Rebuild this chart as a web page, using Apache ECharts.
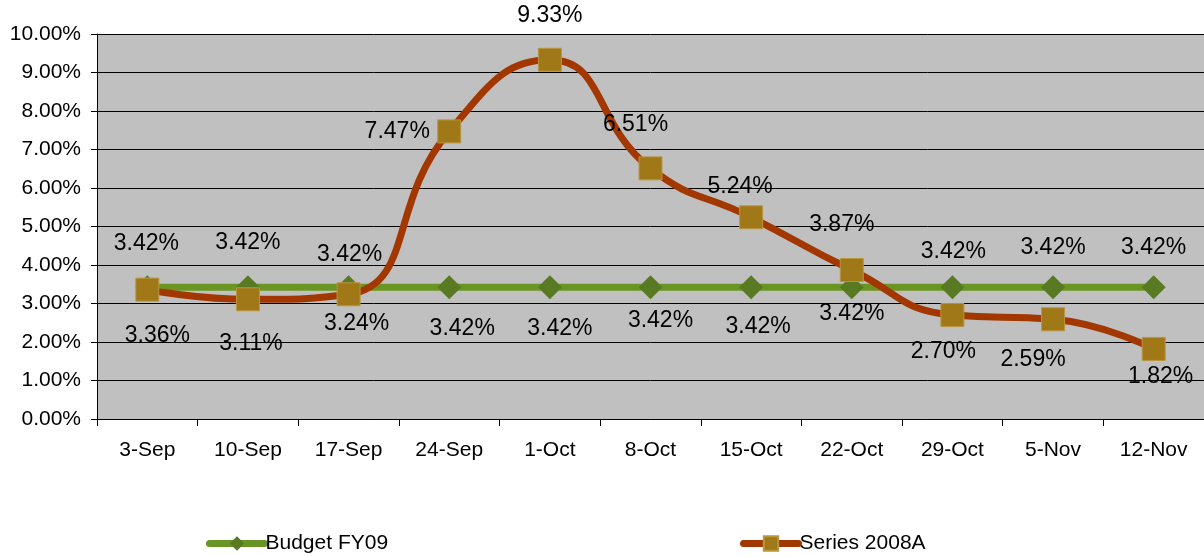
<!DOCTYPE html>
<html>
<head>
<meta charset="utf-8">
<script src="https://cdn.jsdelivr.net/npm/echarts@6/dist/echarts.min.js"></script>
<style>
html,body{margin:0;padding:0;background:#fff;}
#c{width:1204px;height:557px;}
</style>
</head>
<body>
<div id="c"></div>
<script>
const categories = ['3-Sep','10-Sep','17-Sep','24-Sep','1-Oct','8-Oct','15-Oct','22-Oct','29-Oct','5-Nov','12-Nov'];
const budgetFY09 = [3.42,3.42,3.42,3.42,3.42,3.42,3.42,3.42,3.42,3.42,3.42];
const series2008A = [3.36,3.11,3.24,7.47,9.33,6.51,5.24,3.87,2.70,2.59,1.82];
const yTicks = {min:0, max:10, interval:1};

// label offsets (layout only), relative to each marker
const budgetLabelOffsets = [[-1,-44],[0,-45],[1,-33],[13,41],[10,41],[10,33],[7,39],[0,26],[1,-36],[0,-40],[0,-40]];
const seriesLabelOffsets = [[10,46],[3,44],[8,29],[-52,0],[0,-44],[-15,-44],[-11,-31],[-10,-45],[-9,37],[-20,40],[7,28]];

const FONT = '"Liberation Sans", Arial, sans-serif';
const fmt = v => v.toFixed(2) + '%';

function mk(vals, offs){
  return vals.map((v,i)=>({
    value:v,
    label:{show:true, position:'inside', offset:offs[i], formatter:()=>fmt(v),
      color:'#000', fontSize:23, fontFamily:FONT}
  }));
}

const chart = echarts.init(document.getElementById('c'), null, {renderer:'canvas'});
chart.setOption({
  animation:false,
  backgroundColor:'#ffffff',
  grid:{left:97, top:34, width:1110, height:385, backgroundColor:'#C0C0C0', show:true, borderWidth:0},
  legend:[
    {data:['Budget FY09'], left:201, top:528, itemWidth:55, itemHeight:18, itemGap:4,
      lineStyle:{width:7, cap:'round'},
      textStyle:{fontSize:21, fontFamily:FONT, color:'#000', padding:[0,0,0,-4]}},
    {data:['Series 2008A'], left:735, top:528, itemWidth:55, itemHeight:18, itemGap:4,
      lineStyle:{width:7, cap:'round'},
      textStyle:{fontSize:21, fontFamily:FONT, color:'#000', padding:[0,0,0,-4]}}
  ],
  xAxis:{
    type:'category', data:categories, boundaryGap:true,
    axisLine:{lineStyle:{color:'#000', width:1}},
    axisTick:{show:true, length:7, lineStyle:{color:'#000'}},
    axisLabel:{color:'#000', fontSize:21, fontFamily:FONT, margin:21},
    splitLine:{show:false}
  },
  yAxis:{
    type:'value', min:yTicks.min, max:yTicks.max, interval:yTicks.interval,
    axisLine:{show:true, lineStyle:{color:'#000', width:1}},
    axisTick:{show:true, length:6, lineStyle:{color:'#000'}},
    axisLabel:{color:'#000', fontSize:21, fontFamily:FONT, margin:16, formatter:v=>fmt(v)},
    splitLine:{show:true, lineStyle:{color:'#000', width:1}}
  },
  series:[
    {
      name:'Budget FY09', type:'line', data:mk(budgetFY09, budgetLabelOffsets),
      symbol:'diamond', symbolSize:[24,24],
      lineStyle:{color:'#6B9523', width:7},
      itemStyle:{color:'#587A22', borderColor:'#587A22', borderWidth:0},
      z:2
    },
    {
      name:'Series 2008A', type:'line', data:mk(series2008A, seriesLabelOffsets),
      smooth:0.5,
      symbol:'rect', symbolSize:23,
      lineStyle:{color:'#A33700', width:7},
      itemStyle:{color:'#A07818', borderColor:'#B89640', borderWidth:1},
      z:3
    }
  ]
});
</script>
</body>
</html>
